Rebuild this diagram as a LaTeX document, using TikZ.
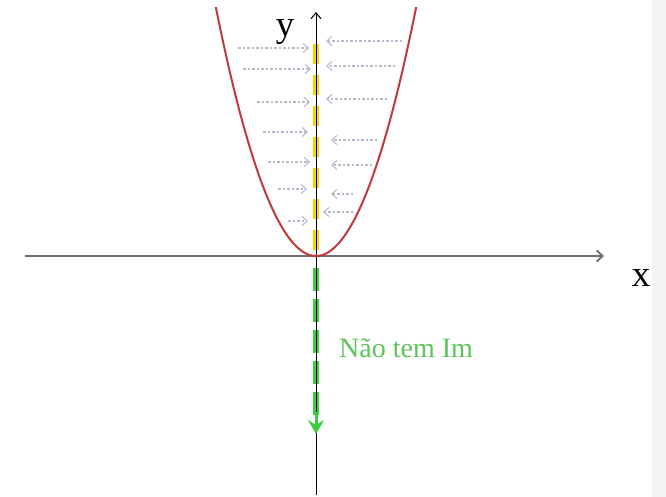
\documentclass[tikz,border=0pt]{standalone}
\usepackage{fontspec}
\setmainfont{Liberation Serif}
\usetikzlibrary{arrows.meta}
\definecolor{curvered}{HTML}{C0393B}
\definecolor{dashyellow}{HTML}{F2D600}
\definecolor{dashgreen}{HTML}{3BCF3B}
\definecolor{textgreen}{HTML}{5CC45C}
\definecolor{hintgrey}{HTML}{B4BCCB}
\definecolor{axisgrey}{HTML}{6E6E6E}
\tikzset{
  hint/.style={hintgrey, line width=1.1pt, dash pattern=on 2.5pt off 2pt, -{Straight Barb[length=5pt,width=9pt]}},
  axislabel/.style={font=\fontsize{37}{40}\selectfont, inner sep=0pt}
}
\begin{document}
\begin{tikzpicture}[x=1pt,y=-1pt]
\useasboundingbox (0,0) rectangle (666,497);
\fill[white] (0,0) rectangle (666,497);
\fill[black!4] (652,0) rectangle (666,497);
% key points
\coordinate (O) at (316,256);
\coordinate (ytop) at (316,12);
\coordinate (ybot) at (316,495);
\coordinate (xleft) at (25,256);
\coordinate (xright) at (604,256);
\coordinate (yellowtop) at (316,40);
\coordinate (greenend) at (316,434);
% hint arrows (left side, pointing right)
\foreach \y/\a/\b [count=\i] in {48/238/309, 69/243/311, 102/257/310, 132/263/308, 162/268/310, 189/278/307, 221/288/308}{
  \coordinate (la\i) at (\a,\y); \coordinate (lb\i) at (\b,\y);
  \draw[hint] (la\i) -- (lb\i);
}
% hint arrows (right side, pointing left)
\foreach \y/\a/\b [count=\i] in {41/402/326, 66/395/326, 99/387/326, 140/377/331, 165/372/331, 194/353/331, 212/353/323}{
  \coordinate (ra\i) at (\a,\y); \coordinate (rb\i) at (\b,\y);
  \draw[hint] (ra\i) -- (rb\i);
}
% yellow dashed (image)
\draw[dashyellow, line width=6.5pt, dash pattern=on 20pt off 11pt] (316,250) -- (yellowtop);
% green dashed
\draw[dashgreen, line width=5.5pt, dash pattern=on 23pt off 8pt] (316,268) -- (316,416);
% x-axis
\draw[axisgrey, line width=2.2pt, -{Straight Barb[length=6pt,width=11pt,line width=1.8pt]}] (xleft) -- (xright);
% y-axis
\draw[black, line width=1pt, -{Straight Barb[length=6pt,width=10pt]}] (ybot) -- (ytop);
% green arrowhead
\draw[dashgreen, line width=3pt, -{Stealth[length=14pt,width=16pt,inset=5pt]}] (316,412) -- (greenend);
% parabola
\begin{scope}
\clip (0,8) rectangle (666,497);
\draw[curvered, line width=2pt] plot[domain=-104:104, samples=90, smooth] ({316+\x}, {256-0.0248*\x*\x});
\end{scope}
% labels
\node[axislabel, anchor=base] (ylab) at (285,37) {y};
\node[axislabel, anchor=base] (xlab) at (641,286) {x};
\fill[black!4] (652,250) rectangle (666,300);
\node[textgreen, font=\fontsize{28}{32}\selectfont, anchor=base west, inner sep=0pt] (lab) at (339,357) {Não tem Im};
\end{tikzpicture}
\end{document}
